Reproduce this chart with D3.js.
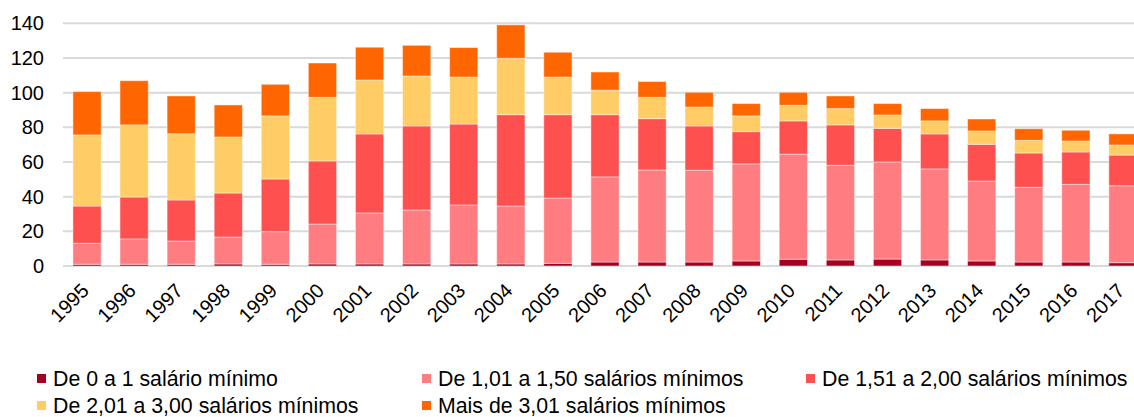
<!DOCTYPE html>
<html>
<head>
<meta charset="utf-8">
<script src="https://cdn.jsdelivr.net/npm/d3@7"></script>
<style>
  html, body { margin: 0; padding: 0; background: #fff; }
  svg text { font-family: "Liberation Sans", Arial, sans-serif; fill: #000; }
</style>
</head>
<body>
<div id="chart"></div>
<script>
// Anos
const years = ['1995','1996','1997','1998','1999','2000','2001','2002','2003','2004','2005','2006',
               '2007','2008','2009','2010','2011','2012','2013','2014','2015','2016','2017'];

// Faixas salariais
const faixa0a1   = [1.0, 1.0, 1.0, 1.2, 1.0, 1.2, 1.2, 1.2, 1.2, 1.2, 1.5, 2.3, 2.3, 2.3, 2.9, 3.9, 3.5, 4.0, 3.5, 2.9, 2.3, 2.3, 1.9];
const faixa1a150 = [12.1, 14.6, 13.4, 15.5, 18.8, 23.0, 29.4, 31.1, 34.0, 33.4, 37.7, 49.1, 53.1, 52.9, 56.0, 60.6, 54.6, 56.0, 52.5, 46.1, 43.1, 44.8, 44.4];
const faixa151a2 = [21.5, 24.2, 23.7, 25.4, 30.4, 36.4, 45.6, 48.5, 46.7, 52.7, 48.1, 35.9, 29.6, 25.6, 18.6, 19.2, 23.3, 19.4, 20.2, 21.2, 19.8, 18.7, 17.7];
const faixa2a3   = [41.0, 41.6, 38.2, 32.3, 36.4, 36.7, 31.1, 28.8, 27.1, 32.5, 21.7, 14.1, 12.3, 10.9, 9.1, 9.0, 9.4, 7.7, 7.5, 7.7, 7.3, 6.3, 5.8];
const faixaMais3 = [25.0, 25.5, 21.8, 18.5, 18.2, 19.8, 18.9, 17.7, 17.0, 19.3, 14.3, 10.5, 9.1, 8.5, 7.1, 7.5, 7.3, 6.6, 7.1, 6.9, 6.7, 6.2, 6.4];

const seriesNames = ['De 0 a 1 salário mínimo', 'De 1,01 a 1,50 salários mínimos', 'De 1,51 a 2,00 salários mínimos',
                     'De 2,01 a 3,00 salários mínimos', 'Mais de 3,01 salários mínimos'];
const seriesValues = [faixa0a1, faixa1a150, faixa151a2, faixa2a3, faixaMais3];
const colors = ['#A50021', '#FF7C80', '#FF5050', '#FFCC66', '#FF6600'];
const yTicks = [0, 20, 40, 60, 80, 100, 120, 140];

const width = 1134, height = 417;
const svg = d3.select('#chart').append('svg')
    .attr('width', width)
    .attr('height', height);

// build rows for d3.stack
const keys = seriesNames.map((_, i) => 'k' + i);
const rows = years.map((y, j) => {
    const r = { year: y };
    keys.forEach((k, i) => r[k] = seriesValues[i][j]);
    return r;
});
const stacked = d3.stack().keys(keys)(rows);

const x = d3.scaleBand()
    .domain(years)
    .range([63.5, 1146.5])
    .paddingInner(0.4)
    .paddingOuter(0.2);

const y = d3.scaleLinear()
    .domain([0, 140])
    .range([266, 23.3]);

// gridlines
svg.append('g')
    .selectAll('line')
    .data(yTicks)
    .enter().append('line')
    .attr('x1', 63)
    .attr('x2', width)
    .attr('y1', d => y(d))
    .attr('y2', d => y(d))
    .attr('stroke', '#D9D9D9')
    .attr('stroke-width', 2);

// y axis labels
const yAxis = svg.append('g')
    .attr('transform', 'translate(44,0)')
    .call(d3.axisLeft(y).tickValues(yTicks).tickSize(0).tickPadding(0));
yAxis.select('.domain').remove();
yAxis.selectAll('text')
    .style('font-size', '20px')
    .style('font-family', '"Liberation Sans", Arial, sans-serif')
    .attr('fill', '#000');

// bars
svg.append('g')
    .selectAll('g')
    .data(stacked)
    .enter().append('g')
    .attr('fill', (d, i) => colors[i])
    .selectAll('rect')
    .data(d => d)
    .enter().append('rect')
    .attr('x', d => x(d.data.year))
    .attr('width', x.bandwidth())
    .attr('y', d => y(d[1]))
    .attr('height', d => y(d[0]) - y(d[1]))
    .attr('stroke', '#fff')
    .attr('stroke-opacity', 0.45)
    .attr('stroke-width', 1);

// x labels
svg.append('g')
    .selectAll('text')
    .data(years)
    .enter().append('text')
    .attr('transform', d => `translate(${x(d) + x.bandwidth() / 2 + 3},292) rotate(-45)`)
    .attr('text-anchor', 'end')
    .style('font-size', '20px')
    .text(d => d);

// legend
const legendPos = [
    { x: 37, y: 386 }, { x: 422, y: 386 }, { x: 806, y: 386 },
    { x: 37, y: 413 }, { x: 422, y: 413 }
];
const legend = svg.append('g')
    .selectAll('g')
    .data(seriesNames)
    .enter().append('g')
    .attr('transform', (d, i) => `translate(${legendPos[i].x},${legendPos[i].y})`);

legend.append('rect')
    .attr('x', 0)
    .attr('y', -12)
    .attr('width', 9)
    .attr('height', 9)
    .attr('fill', (d, i) => colors[i]);

legend.append('text')
    .attr('x', 16)
    .attr('y', 0)
    .style('font-size', '21.3px')
    .text(d => d);
</script>
</body>
</html>
